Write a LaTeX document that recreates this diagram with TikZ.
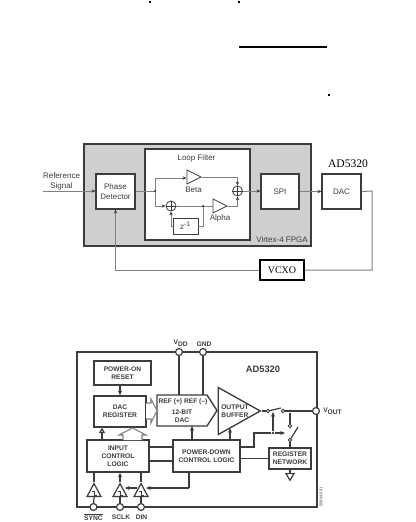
\documentclass[tikz,border=0pt]{standalone}
\usepackage{fontspec}
\setmainfont{Liberation Sans}
\newfontfamily\serifnote{Liberation Serif}
\usetikzlibrary{arrows.meta,shapes.geometric}
\definecolor{wiregray}{HTML}{808080}
\definecolor{fpgagray}{HTML}{CFCFCF}
\definecolor{inkgray}{HTML}{3C3C3C}
\tikzset{
  upbox/.style={draw=inkgray, fill=white, line width=0.8pt, inner sep=0pt, align=center, text=inkgray, font=\fontsize{6}{7.5}\selectfont},
  uptext/.style={inner sep=0pt, align=center, text=inkgray, font=\fontsize{6}{7.5}\selectfont},
  upwire/.style={draw=wiregray, line width=0.75pt},
  upflow/.style={upwire, -{Stealth[length=3pt,width=2.5pt,fill=inkgray,inkgray]}},
  uptri/.style={draw=inkgray, fill=white, line width=0.6pt, isosceles triangle, isosceles triangle stretches, inner sep=0pt, anchor=apex},
  sumnode/.style={circle, draw=inkgray, fill=white, line width=0.6pt, minimum size=7.5pt, inner sep=0pt},
  lowbox/.style={draw=inkgray, fill=white, line width=1pt, inner sep=0pt, align=center, text=inkgray, font=\bfseries\fontsize{5}{6.2}\selectfont},
  lowtext/.style={inner sep=0pt, align=center, text=inkgray, font=\bfseries\fontsize{5}{6.2}\selectfont},
  lowwire/.style={draw=inkgray, line width=0.9pt},
  lowflow/.style={lowwire, -{Stealth[length=3.5pt,width=3pt]}},
  pinnode/.style={circle, draw=inkgray, fill=white, line width=0.9pt, minimum size=5.2pt, inner sep=0pt},
  tinypin/.style={circle, draw=inkgray, fill=white, line width=0.6pt, minimum size=2.6pt, inner sep=0pt},
  joint/.style={circle, fill=inkgray, minimum size=2.2pt, inner sep=0pt},
  lowtri/.style={draw=inkgray, fill=white, line width=0.9pt, isosceles triangle, isosceles triangle stretches, inner sep=0pt, anchor=apex, shape border rotate=90, minimum width=10.5pt, minimum height=9.75pt},
  hollow/.style={draw=wiregray, fill=white, line width=0.8pt},
  specks/.style={fill=black, minimum size=1.5pt, inner sep=0pt}
}
\begin{document}
\begin{tikzpicture}[x=0.75pt, y=-0.75pt]
\useasboundingbox (0,0) rectangle (416,522);

% marks on top of the page
\node[specks] (speckA) at (150,2) {};
\node[specks] (speckB) at (239,2) {};
\node[specks] (speckC) at (328.5,95) {};
\coordinate (ruleL) at (239,47);
\coordinate (ruleR) at (327,47);
\draw[line width=0.9pt] (ruleL) -- (ruleR);

% FPGA loop
\node[draw=inkgray, fill=fpgagray, line width=0.8pt, minimum width=170.25pt, minimum height=76.5pt, inner sep=0pt] (fpga) at (197.5,195) {};
\node[draw=inkgray, fill=white, line width=0.9pt, minimum width=78.75pt, minimum height=68.25pt, inner sep=0pt] (filter) at (197.5,194.5) {};
\node[uptext] (filterlab) at (196.5,158.5) {Loop Filter};
\node[uptext, anchor=east] (fpgalab) at (308,239.5) {Virtex-4 FPGA};
\node[upbox, minimum width=29.25pt, minimum height=26.25pt] (phase) at (115.5,191.5) {Phase\\Detector};
\node[upbox, minimum width=28.5pt, minimum height=26.25pt] (spi) at (280,191.5) {SPI};
\node[upbox, minimum width=29.25pt, minimum height=26.25pt] (dac) at (341.5,191.5) {DAC};
\node[draw=black, fill=white, line width=1.6pt, minimum width=33pt, minimum height=15pt, inner sep=0pt, font=\serifnote\fontsize{7.5}{9}\selectfont] (vcxo) at (282,270) {VCXO};
\node[inner sep=0pt, font=\serifnote\fontsize{8.7}{10}\selectfont] (chip) at (348,164) {AD5320};
\node[uptext] (reflab) at (61.5,181) {Reference\\Signal};
\coordinate (refin) at (43,191);
\coordinate (split) at (155,191);
\coordinate (turnR) at (372,191);
\coordinate (turnB) at (372,270);
\coordinate (splitA) at (155,178);
\coordinate (splitB) at (155,206);

\node[uptri, minimum width=10.5pt, minimum height=10.5pt] (beta) at (202,177) {};
\node[uptri, minimum width=10.5pt, minimum height=10.5pt] (alpha) at (228,206) {};
\node[uptext] (betalab) at (193.5,189.5) {Beta};
\node[uptext] (alphalab) at (220,218.5) {Alpha};
\node[sumnode] (sumA) at (171,206) {};
\node[sumnode] (sumB) at (237.5,191) {};
\node[draw=inkgray, fill=white, line width=0.7pt, minimum width=18.75pt, minimum height=12pt, inner sep=0pt, text=inkgray, font=\fontsize{6}{7}\selectfont] (delay) at (185.5,226) {z\textsuperscript{-1}};
\coordinate (takeoff) at (203,206);
\foreach \s in {sumA,sumB} {
  \draw[inkgray, line width=0.6pt] (\s.north) -- (\s.south) (\s.west) -- (\s.east);
}

\draw[upflow] (refin) -- (phase.west |- refin);
\draw[upwire] (phase.east |- split) -- (split) -- (splitA);
\draw[upflow] (splitA) -- (beta.lower side |- splitA);
\draw[upflow] (beta.apex) -| (sumB.north);
\draw[upwire] (split) -- (splitB);
\draw[upflow] (splitB) -- (sumA.west);
\draw[upwire] (sumA.east) -- (alpha.lower side);
\draw[upflow] (alpha.apex) -| (sumB.south);
\draw[upwire] (delay.east) -| (takeoff);
\draw[upflow] (delay.west) -| (sumA.south);
\draw[upflow] (sumB.east) -- (spi.west |- sumB);
\draw[upflow] (spi.east) -- (dac.west);
\draw[upwire] (dac.east) -- (turnR) -- (turnB) -- (vcxo.east);
\draw[upflow] (vcxo.west) -| (phase.south);
\fill[inkgray] (takeoff) circle (0.9pt) (split) circle (0.9pt);

% AD5320 block
\coordinate (frameA) at (77,352);
\coordinate (frameB) at (317,507);
\draw[inkgray, line width=1pt] (frameA) rectangle (frameB);
\node[lowtext, font=\bfseries\fontsize{7}{8}\selectfont] (title) at (263,369) {AD5320};

\node[lowbox, minimum width=42.75pt, minimum height=18pt] (reset) at (122.5,373) {POWER-ON\\RESET};
\node[lowbox, minimum width=39pt, minimum height=23.25pt] (dacreg) at (120,411.5) {DAC\\REGISTER};
\node[lowbox, minimum width=46.5pt, minimum height=24pt] (input) at (118,456) {INPUT\\CONTROL\\LOGIC};
\node[lowbox, minimum width=50.25pt, minimum height=24pt] (pdown) at (206.5,456) {POWER-DOWN\\CONTROL LOGIC};
\node[lowbox, minimum width=31.5pt, minimum height=15.75pt] (network) at (290,458.5) {REGISTER\\NETWORK};
\coordinate (convL) at (157,395);
\coordinate (convR) at (207,395);
\coordinate (convT) at (217,410.5);
\coordinate (convS) at (207,426);
\coordinate (convB) at (157,426);
\coordinate (convW) at (157,410.5);
\draw[inkgray, fill=white, line width=1pt] (convL) -- (convR) -- (convT) -- (convS) -- (convB) -- cycle;
\node[lowtext] (reflab2) at (183,401.5) {REF (+) REF (--)};
\node[lowtext] (bits) at (182,416) {12-BIT\\DAC};
\node[draw=inkgray, fill=white, line width=1pt, isosceles triangle, isosceles triangle stretches, inner sep=0pt, anchor=apex, minimum width=35.25pt, minimum height=31.5pt] (buffer) at (262,411) {};
\node[lowtext, anchor=west] (buflab) at (221,411) {OUTPUT\\BUFFER};

\node[pinnode] (vdd) at (179,352) {};
\node[pinnode] (gnd) at (203,352) {};
\node[pinnode] (vout) at (316,411) {};
\node[pinnode] (sync) at (93.5,507) {};
\node[pinnode] (sclk) at (120,507) {};
\node[pinnode] (din) at (141,507) {};
\node[lowtext] (vddlab) at (181,343) {V\textsubscript{DD}};
\node[lowtext] (gndlab) at (204,344) {GND};
\node[lowtext, anchor=west] (voutlab) at (323,411) {V\textsubscript{OUT}};
\node[lowtext] (synclab) at (93.5,517) {\(\overline{\mbox{SYNC}}\)};
\node[lowtext] (sclklab) at (121,517) {SCLK};
\node[lowtext] (dinlab) at (141.5,517) {DIN};
\node[inner sep=0pt, rotate=90, text=inkgray, font=\fontsize{3}{3}\selectfont] (partno) at (321,497) {05864-001};

\node[lowtri] (bufA) at (94,482) {};
\node[lowtri] (bufB) at (120,482) {};
\node[lowtri] (bufC) at (141,482) {};
\foreach \b in {bufA,bufB,bufC} {
  \draw[inkgray, line width=0.6pt] ([xshift=-1.5pt,yshift=1pt]\b.center) -- ++(2pt,0) -- ++(0,-3pt) -- ++(1.5pt,0);
}

\node[tinypin] (swA) at (268,411) {};
\node[tinypin] (swB) at (283,411) {};
\node[joint] (swC) at (290,411) {};
\node[tinypin] (swD) at (290,426) {};
\node[tinypin] (swE) at (290,440) {};
\node[joint] (ctrl) at (273,433) {};
\coordinate (bladeA) at (281,408);
\coordinate (bladeE) at (298,427);
\coordinate (ctrlup) at (273,412);
\coordinate (ctrlend) at (285,433);
\coordinate (stepA) at (254,447);
\coordinate (stepB) at (254,433);
\coordinate (gndtop) at (290,473);
\coordinate (pdturn) at (189,488);
\node[draw=inkgray, fill=white, line width=0.9pt, isosceles triangle, isosceles triangle stretches, inner sep=0pt, anchor=lower side, shape border rotate=-90, minimum width=6pt, minimum height=5pt] (ground) at (gndtop) {};

\draw[lowflow] (reset.south -| dacreg.north) -- (dacreg.north);
\draw[lowwire] (vdd) -- (vdd |- convL);
\draw[lowwire] (gnd) -- (gnd |- convL);
\draw[hollow] (146,403) -- (151,403) -- (151,399) -- (convW) -- (151,423) -- (151,419) -- (146,419);
\draw[hollow] (123,440) -- (123,435) -- (119,435) -- (132.5,428) -- (146,435) -- (142,435) -- (142,440);
\draw[lowwire, -{Triangle[open,length=4pt,width=4.5pt]}] (input.north -| 102,0) -- (dacreg.south -| 102,0);
\draw[lowflow] (pdown.north -| 192,0) -- (convB -| 192,0);
\draw[lowflow] (pdown.north -| 230,0) -- (230,428);
\draw[lowwire] (input.east |- 0,447) -- (pdown.west |- 0,447);
\draw[lowwire] (input.east |- 0,461) -- (pdown.west |- 0,461);
\draw[lowwire] (pdown.east |- stepA) -- (stepA) -- (stepB) -- (ctrl);
\draw[lowflow] (ctrl) -- (ctrlend);
\draw[lowflow] (ctrl) -- (ctrlup);
\draw[lowwire] (pdown.east |- network) -- (network.west);
\draw[lowwire] (buffer.apex) -- (swA);
\draw[lowwire] (swA) -- (bladeA);
\draw[lowwire] (swB) -- (vout);
\draw[lowwire] (swC) -- (swD);
\draw[lowwire] (swE) -- (bladeE);
\draw[lowwire] (swE) -- (network.north);
\draw[lowwire] (network.south) -- (ground.lower side);
\draw[lowwire] (sync) -- (bufA.lower side);
\draw[lowwire] (sclk) -- (bufB.lower side);
\draw[lowwire] (din) -- (bufC.lower side);
\draw[lowwire] (bufA.apex) -- (bufA.apex |- input.south);
\draw[lowflow] (bufB.apex) -- (bufB.apex |- input.south);
\draw[lowwire] (bufC.apex) -- (bufC.apex |- input.south);
\draw[lowwire] (pdown.south -| pdturn) -- (pdturn);
\draw[lowflow] (pdturn) -- (146,488);
\draw[lowflow] (136.5,488) -- (125,488);
\end{tikzpicture}
\end{document}
